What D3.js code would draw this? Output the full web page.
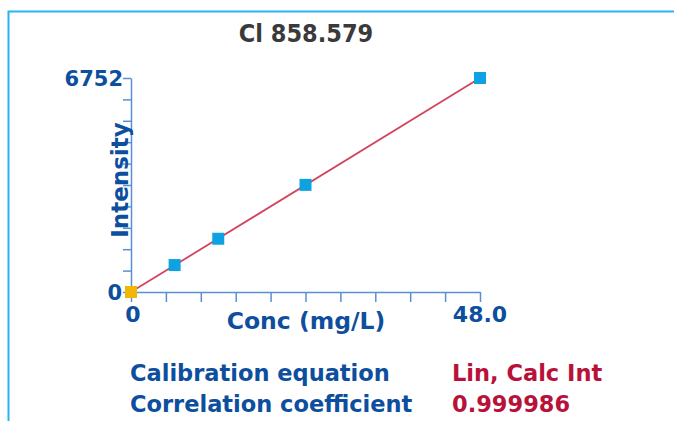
<!DOCTYPE html>
<html><head><meta charset="utf-8">
<script src="https://cdn.jsdelivr.net/npm/d3@7"></script>
<style>html,body{margin:0;padding:0;background:#fff;}</style>
</head><body>
<script>
const title = "Cl 858.579";
const conc = [0, 6, 12, 24, 48];
const intensity = [0, 850, 1680, 3380, 6752];
const blankFlags = [true, false, false, false, false];
const xDomain = [0, 48.0];
const yDomain = [0, 6752];
const xTickLabels = ["0", "48.0"];
const yTickLabels = ["0", "6752"];
const tickCount = 10;
const infoLabels = ["Calibration equation", "Correlation coefficient"];
const infoValues = ["Lin, Calc Int", "0.999986"];

const W = 674, H = 421;
const svg = d3.select("body").append("svg").attr("width", W).attr("height", H);
const font = "'DejaVu Sans', Verdana, sans-serif";
const axisBlue = "#5a8fd2";
const textBlue = "#0d4f9e";

// frame
svg.append("path").attr("d", `M8.5,${H}V11.5H${W}`).attr("fill", "none")
  .attr("stroke", "#2ab4ee").attr("stroke-width", 2);

const x = d3.scaleLinear().domain(xDomain).range([131, 480]);
const y = d3.scaleLinear().domain(yDomain).range([292, 78]);

// title
svg.append("text").attr("x", 306).attr("y", 42).attr("text-anchor", "middle")
  .attr("font-family", "'DejaVu Sans Condensed', 'DejaVu Sans', sans-serif").attr("font-weight", "bold")
  .attr("font-size", 25).attr("fill", "#3a3a3a").text(title);

// y axis
const yTicks = d3.range(tickCount + 1).map(i => yDomain[0] + (yDomain[1] - yDomain[0]) * i / tickCount);
const yAxis = d3.axisLeft(y).tickValues(yTicks).tickSize(8).tickSizeOuter(0).tickFormat("");
const gy = svg.append("g").attr("transform", `translate(${x(0)},0)`).call(yAxis);
gy.selectAll("path,line").attr("stroke", axisBlue).attr("stroke-width", 1.5);

// x axis
const xTicks = d3.range(tickCount + 1).map(i => xDomain[0] + (xDomain[1] - xDomain[0]) * i / tickCount);
const xAxis = d3.axisBottom(x).tickValues(xTicks).tickSize(10).tickSizeOuter(0).tickFormat("");
const gx = svg.append("g").attr("transform", `translate(0,${y(0)})`).call(xAxis);
gx.selectAll("path,line").attr("stroke", axisBlue).attr("stroke-width", 1.5);

// tick labels
const lab = (t) => t.attr("font-family", font).attr("font-weight", "bold").attr("font-size", 21).attr("fill", textBlue);
lab(svg.append("text").attr("x", x(0) - 8).attr("y", y(yDomain[1]) + 8).attr("text-anchor", "end")).text(yTickLabels[1]);
lab(svg.append("text").attr("x", x(0) - 9).attr("y", y(0) + 8).attr("text-anchor", "end")).text(yTickLabels[0]);
lab(svg.append("text").attr("x", x(xDomain[0]) + 2).attr("y", 322).attr("text-anchor", "middle")).attr("font-size", 22).text(xTickLabels[0]);
lab(svg.append("text").attr("x", x(xDomain[1])).attr("y", 322).attr("text-anchor", "middle")).attr("font-size", 22).text(xTickLabels[1]);

// axis titles
lab(svg.append("text").attr("x", 306).attr("y", 329).attr("text-anchor", "middle")).attr("font-size", 23.5).text("Conc (mg/L)");
lab(svg.append("text").attr("transform", `translate(128,180) rotate(-90)`).attr("text-anchor", "middle")).attr("font-size", 23).text("Intensity");

// regression line
svg.append("line").attr("x1", x(xDomain[0])).attr("y1", y(0)).attr("x2", x(conc[conc.length-1])).attr("y2", y(intensity[intensity.length-1]))
  .attr("stroke", "#d2455f").attr("stroke-width", 1.8);

// points
const s = 12;
svg.selectAll("rect.pt").data(conc.map((c, i) => ({c, v: intensity[i], b: blankFlags[i]})))
  .join("rect").attr("class", "pt")
  .attr("x", d => x(d.c) - s/2).attr("y", d => y(d.v) - s/2)
  .attr("width", s).attr("height", s)
  .attr("fill", d => d.b ? "#f2b705" : "#0ea2e2");

// info
infoLabels.forEach((t, i) => {
  lab(svg.append("text").attr("x", 130).attr("y", 381 + i * 31)).attr("font-size", 22.5).text(t);
  lab(svg.append("text").attr("x", 452).attr("y", 381 + i * 31)).attr("font-size", 22.5).attr("fill", "#b8123a").text(infoValues[i]);
});
</script>
</body></html>
